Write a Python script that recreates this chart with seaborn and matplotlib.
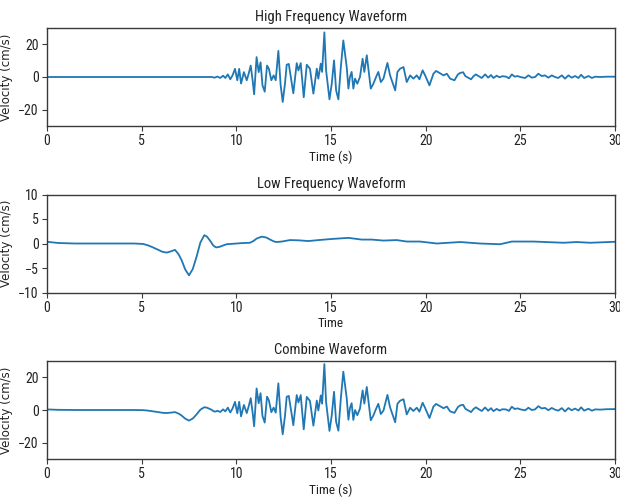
import numpy as np
import matplotlib
matplotlib.use("Agg")
import matplotlib.pyplot as plt
import seaborn as sns

# ---- data ----
hf_time = [0.0, 8.7, 8.85, 9.0, 9.15, 9.3, 9.42, 9.55, 9.68, 9.8, 9.93, 10.05, 10.15, 10.25,
           10.4, 10.55, 10.65, 10.76, 10.86, 10.94, 11.07, 11.18, 11.28, 11.38, 11.5, 11.62,
           11.72, 11.85, 11.97, 12.08, 12.22, 12.34, 12.45, 12.57, 12.66, 12.77, 12.89, 13.01,
           13.19, 13.28, 13.4, 13.56, 13.72, 13.89, 14.07, 14.25, 14.33, 14.46, 14.53, 14.65,
           14.74, 14.92, 15.04, 15.16, 15.27, 15.39, 15.52, 15.65, 15.83, 15.92, 16.0, 16.09,
           16.18, 16.27, 16.39, 16.53, 16.67, 16.76, 16.89, 17.1, 17.24, 17.38, 17.5, 17.63,
           17.77, 17.98, 18.12, 18.39, 18.51, 18.65, 18.83, 19.0, 19.18, 19.35, 19.53, 19.67,
           19.84, 19.97, 20.2, 20.41, 20.55, 20.73, 20.94, 21.12, 21.29, 21.52, 21.7, 21.82,
           21.98, 22.1, 22.4, 22.52, 22.65, 22.8, 22.96, 23.14, 23.3, 23.45, 23.58, 23.75,
           23.9, 24.05, 24.25, 24.4, 24.55, 24.7, 24.85, 25.0, 25.25, 25.43, 25.6, 25.78,
           25.95, 26.13, 26.3, 26.48, 26.66, 26.83, 27.0, 27.19, 27.36, 27.54, 27.71, 27.89,
           28.07, 28.21, 28.37, 28.6, 28.78, 28.95, 29.22, 29.57, 30.0]
hf_velocity = [0.0, 0.0, -0.4, 0.3, -0.6, 0.8, -0.6, 1.6, -1.4, 1.0, 5.0, -2.0, 5.0, -4.0,
               3.0, -2.0, 2.0, 7.0, -2.0, -10.6, 12.2, 3.0, 9.0, -5.0, -9.0, 7.0,
               5.0, -2.0, 1.0, -2.0, 16.0, -5.0, -15.3, -4.0, 7.5, 8.0, -0.8, -10.0,
               8.5, 4.0, 8.5, -12.4, 7.5, 5.0, -10.2, 5.1, -1.0, 8.2, 3.1, 27.3,
               4.1, -13.7, -4.1, 10.2, -8.2, -13.7, 6.1, 22.4, 6.1, -7.1, 0.0, 3.1,
               -7.1, -1.0, -4.1, 0.0, 11.2, 3.1, 13.3, -7.1, -4.1, 0.0, 3.1, -3.1,
               -1.0, 8.6, 1.0, -8.2, 3.1, 5.1, 6.1, -3.1, 1.0, -1.0, 1.0, -1.4,
               4.1, 1.0, -5.1, 2.0, 3.7, 2.5, 1.0, 2.0, -1.0, -2.0, 1.5, 2.5,
               2.9, 0.5, -1.4, 0.4, 1.6, 0.5, -0.6, 1.6, -0.4, 1.2, -0.6, 0.8,
               -0.2, 0.5, 0.2, -0.8, 1.6, 0.2, 0.6, 0.0, -0.6, 1.0, -0.4, 0.0,
               2.0, 0.6, 1.0, -0.4, 1.0, 0.0, -0.6, 1.0, -1.0, 1.0, -0.4, 0.6,
               -0.6, 1.4, -0.6, 0.6, -0.6, 0.2, 0.0, 0.2, 0.2]

lf_time = [0.0, 0.6, 1.5, 4.6, 5.09, 5.35, 5.6, 5.88, 6.1, 6.32, 6.55, 6.76, 6.95, 7.11,
           7.3, 7.5, 7.7, 7.9, 8.1, 8.31, 8.45, 8.61, 8.78, 8.93, 9.1, 9.23, 9.49, 10.02,
           10.37, 10.72, 10.9, 11.07, 11.34, 11.6, 11.78, 12.0, 12.13, 12.4, 12.84, 13.28,
           13.81, 14.34, 15.13, 15.92, 16.62, 17.15, 17.77, 18.47, 19.0, 19.7, 20.59, 21.82,
           22.87, 23.93, 24.55, 25.69, 27.28, 27.98, 28.69, 30.0]
lf_velocity = [0.35, 0.1, 0.0, 0.0, -0.1, -0.4, -0.8, -1.3, -1.7, -1.85, -1.6, -1.3, -2.2, -3.4,
               -5.3, -6.5, -5.2, -2.7, 0.2, 1.7, 1.4, 0.6, -0.4, -0.8, -0.7, -0.5, -0.15, 0.0,
               0.1, 0.15, 0.5, 1.0, 1.4, 1.2, 0.8, 0.4, 0.3, 0.4, 0.7, 0.65,
               0.5, 0.7, 0.95, 1.15, 0.8, 0.8, 0.6, 0.7, 0.4, 0.4, 0.0, 0.3,
               0.0, -0.15, 0.4, 0.4, 0.15, 0.3, 0.15, 0.35]

titles = ["High Frequency Waveform", "Low Frequency Waveform", "Combine Waveform"]
xlabels = ["Time (s)", "Time", "Time (s)"]
ylabel = "Velocity (cm/s)"
ylims = [(-30, 30), (-10, 10), (-30, 30)]
yticks = [[-20, 0, 20], [-10, -5, 0, 5, 10], [-20, 0, 20]]
xticks = [0, 5, 10, 15, 20, 25, 30]

# combined = high + low on the union of sample times
comb_time = np.union1d(hf_time, lf_time)
comb_velocity = np.interp(comb_time, hf_time, hf_velocity) + np.interp(comb_time, lf_time, lf_velocity)

series = [(np.array(hf_time), np.array(hf_velocity)),
          (np.array(lf_time), np.array(lf_velocity)),
          (comb_time, comb_velocity)]

sns.set_style("ticks")
narrow = ["Roboto Condensed", "DejaVu Sans"]
plt.rcParams["font.family"] = narrow
plt.rcParams["font.weight"] = "normal"
plt.rcParams["axes.edgecolor"] = "#3a3a3a"
plt.rcParams["xtick.color"] = "#3a3a3a"
plt.rcParams["ytick.color"] = "#3a3a3a"
plt.rcParams["xtick.labelcolor"] = "#222222"
plt.rcParams["ytick.labelcolor"] = "#222222"

fig = plt.figure(figsize=(6.2, 4.99), dpi=100)
positions = [
    [47 / 620, 1 - 126 / 499, 568 / 620, 98 / 499],
    [47 / 620, 1 - 292.5 / 499, 568 / 620, 98 / 499],
    [47 / 620, 1 - 459 / 499, 568 / 620, 98 / 499],
]

for i in range(3):
    ax = fig.add_axes(positions[i])
    t, v = series[i]
    sns.lineplot(x=t, y=v, ax=ax, color="#1f77b4", linewidth=1.3)
    ax.set_xlim(0, 30)
    ax.set_ylim(*ylims[i])
    ax.set_xticks(xticks)
    ax.set_yticks(yticks[i])
    ax.tick_params(labelsize=10, length=3.5, width=0.8, direction="out", pad=2.5)
    for s in ax.spines.values():
        s.set_visible(True)
        s.set_linewidth(1.0)
    ax.set_title(titles[i], fontsize=10.5, pad=5, color="#222222", fontweight="normal")
    ax.set_xlabel(xlabels[i], fontsize=9.5, color="#222222", fontweight="normal", labelpad=1.5)
    ax.set_ylabel(ylabel, fontsize=8.5, family=["DejaVu Sans"], color="#222222")
    ax.yaxis.set_label_coords(-0.06, 0.5)

fig.savefig("out.png", dpi=100)
